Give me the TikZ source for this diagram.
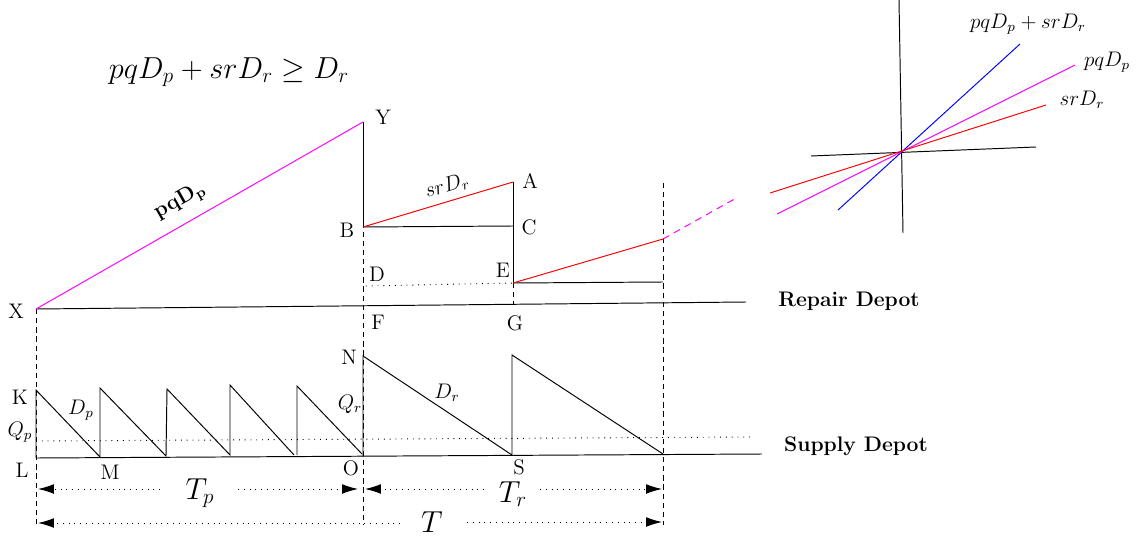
\documentclass[tikz,border=0pt]{standalone}
\usepackage{amsmath,amssymb}
\usetikzlibrary{arrows.meta}
\definecolor{mag}{RGB}{255,0,255}
\definecolor{rd}{RGB}{255,0,0}
\definecolor{bl}{RGB}{0,0,255}
\begin{document}
\begin{tikzpicture}[x=0.02cm,y=-0.02cm, line width=0.55pt,
  lbl/.style={font=\large, inner sep=0pt},
  sml/.style={inner sep=0pt},
  dsh/.style={dash pattern=on 3pt off 2.2pt},
  dot/.style={dash pattern=on 0.5pt off 2.8pt},
  arr/.style={-{Latex[length=9pt,width=5.5pt]}}]
\useasboundingbox (0,0) rectangle (1139,537);

% ---------- repair depot points
\coordinate (X) at (36,309);
\coordinate (Y) at (363,122);
\coordinate (Ys) at (363,222);
\coordinate (B) at (363,227);
\coordinate (A) at (513,182);
\coordinate (C) at (513,226);
\coordinate (E) at (513,283);
\coordinate (Dd) at (366,286);
\coordinate (G) at (513,305);
\coordinate (Rend) at (746,302);
\coordinate (H) at (663,282);
\coordinate (Hr) at (663,239);
\coordinate (Hm) at (738,197);
\coordinate (V4t) at (663,183);
\coordinate (V4b) at (663,525);
\coordinate (V1b) at (36,527);
\coordinate (V2b) at (363,525);

\draw (X) -- (Rend);
\draw[dsh] (X) -- (V1b);
\draw[dsh] (Y) -- (V2b);
\draw[dsh] (E) -- (G);
\draw[dsh] (V4t) -- (V4b);
\draw (Y) -- (Ys);
\draw (B) -- (C);
\draw (A) -- (E);
\draw (E) -- (H);
\draw[rd] (B) -- (A);
\draw[rd] (E) -- (Hr);
\draw[mag] (X) -- (Y);
\draw[mag, dash pattern=on 4pt off 3pt] (Hr) -- (Hm);
\draw[dot] (Dd) -- (E);

% ---------- supply depot
\coordinate (L) at (36,458);
\coordinate (Send) at (762,454);
\coordinate (K) at (36,390);
\coordinate (M) at (100,457);
\coordinate (T2) at (100,388);
\coordinate (M2) at (166,456);
\coordinate (T3) at (167,389);
\coordinate (M3) at (230,455);
\coordinate (T4) at (230,385);
\coordinate (M4) at (294,455);
\coordinate (B5) at (297,455);
\coordinate (T5) at (297,386);
\coordinate (M5) at (362,454);
\coordinate (O) at (363,457);
\coordinate (N) at (363,356);
\coordinate (S) at (512,455);
\coordinate (T7) at (512,355);
\coordinate (Z) at (663,454);
\coordinate (Qa) at (36,441);
\coordinate (Qb) at (750,437);

\draw (L) -- (Send);
\draw[dot] (Qa) -- (Qb);
\draw (L) -- (K) -- (M) -- (T2) -- (M2) -- (T3) -- (M3) -- (T4) -- (M4);
\draw (B5) -- (T5) -- (M5);
\draw (O) -- (N) -- (S) -- (T7) -- (Z);

% ---------- dimension arrows
\coordinate (a1) at (38,489);
\coordinate (a1e) at (160,489);
\coordinate (a2) at (238,489);
\coordinate (a2e) at (358,489);
\coordinate (a3) at (365,489);
\coordinate (a3e) at (484,489);
\coordinate (a4) at (540,489);
\coordinate (a4e) at (662,489);
\coordinate (b1) at (38,523);
\coordinate (b1e) at (400,523);
\coordinate (b2) at (467,522);
\coordinate (b2e) at (662,522);
\draw[dot, arr] (a1e) -- (a1);
\draw[dot, arr] (a2) -- (a2e);
\draw[dot, arr] (a3e) -- (a3);
\draw[dot, arr] (a4) -- (a4e);
\draw[dot, arr] (b1e) -- (b1);
\draw[dot, arr] (b2) -- (b2e);

% ---------- inset
\coordinate (ia) at (899,0);
\coordinate (ib) at (903,233);
\coordinate (ic) at (811,156);
\coordinate (id) at (1036,147);
\coordinate (bl1) at (838,210);
\coordinate (bl2) at (1020,44);
\coordinate (mg1) at (777,214);
\coordinate (mg2) at (1075,65);
\coordinate (rd1) at (770,193);
\coordinate (rd2) at (1046,105);
\draw (ia) -- (ib);
\draw (ic) -- (id);
\draw[bl] (bl1) -- (bl2);
\draw[mag] (mg1) -- (mg2);
\draw[rd] (rd1) -- (rd2);

% ---------- labels
\node (formula) at (229,72) {\LARGE $pqD_p+srD_r\geq D_r$};
\node[lbl] (lY) at (383,117) {Y};
\node[lbl] (lX) at (16,311) {X};
\node[lbl] (lB) at (347,230) {B};
\node[lbl] (lA) at (530,181) {A};
\node[lbl] (lC) at (529,227) {C};
\node[lbl] (lD) at (377,274) {D};
\node[lbl] (lE) at (503,270) {E};
\node[lbl] (lF) at (378,322) {F};
\node[lbl] (lG) at (515,323) {G};
\node[lbl] (lN) at (349,357) {N};
\node[lbl] (lK) at (20,397) {K};
\node[lbl] (lL) at (22,470) {L};
\node[lbl] (lM) at (110,472) {M};
\node[lbl] (lO) at (351,468) {O};
\node[lbl] (lS) at (519,467) {S};
\node[sml, font=\large] (lQp) at (20,432) {$Q_p$};
\node[sml, font=\large] (lDp) at (81,410) {$D_p$};
\node[sml, font=\large] (lQr) at (350,404) {$Q_r$};
\node[sml, font=\large] (lDr) at (447,393) {$D_r$};
\node[sml, font=\LARGE] (lTp) at (200,493) {$T_p$};
\node[sml, font=\LARGE] (lTr) at (513,494) {$T_r$};
\node[sml, font=\LARGE] (lT) at (432,522) {$T$};
\node[sml, font=\large\bfseries] (lrep) at (849,301) {Repair Depot};
\node[sml, font=\large\bfseries] (lsup) at (856,446) {Supply Depot};
\node[sml, font=\large] (i1) at (1028,24) {$pqD_p+srD_r$};
\node[sml, font=\large] (i2) at (1107,62) {$pqD_p$};
\node[sml, font=\large] (i3) at (1082,100) {$srD_r$};
\node[sml, rotate=29.6, font=\large] (lpq) at (180,201) {$\mathbf{pqD_p}$};
\node[sml, rotate=16.7, font=\large] (lsr) at (447,186) {$srD_r$};
\end{tikzpicture}
\end{document}
